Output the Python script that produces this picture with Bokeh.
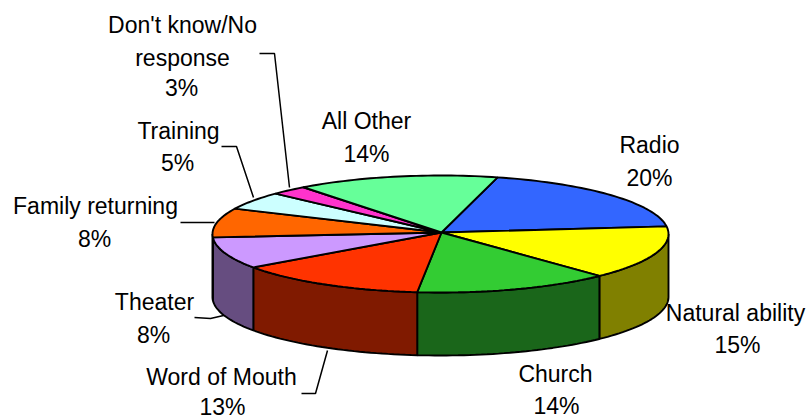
import math
from bokeh.plotting import figure
from bokeh.models import ColumnDataSource, Range1d
from bokeh.core.properties import value
from bokeh.embed import file_html
from bokeh.resources import INLINE

# Slices clockwise, beginning at the All Other / Radio boundary
categories = ["Radio", "Natural ability", "Church", "Word of Mouth", "Theater",
              "Family returning", "Training", "Don't know/No response", "All Other"]
percent_labels = [20, 15, 14, 13, 8, 8, 5, 3, 14]
# Share of the ellipse sweep as it appears on the tilted disc
visible_share = [18.9, 14.8, 13.9, 13.7, 8.75, 8.05, 5.0, 2.6, 14.3]
top_colors = ["#3366FF", "#FFFF00", "#33CC33", "#FF3300", "#CC99FF",
              "#FF6600", "#CCFFFF", "#FF33CC", "#66FF99"]
side_colors = ["#1A3380", "#808000", "#1A661A", "#801A00", "#664D80",
               "#803300", "#668080", "#801A66", "#338050"]

# label lines: (x, y-centre, text)
label_lines = [
    (182, 24, "Don't know/No"), (182, 57, "response"), (181, 87, "3%"),
    (178, 130, "Training"), (177, 162, "5%"),
    (366, 120, "All Other"), (366, 153, "14%"),
    (649, 144, "Radio"), (649, 177, "20%"),
    (735, 312, "Natural ability"), (737, 344, "15%"),
    (555, 373, "Church"), (556, 405, "14%"),
    (221, 376, "Word of Mouth"), (222, 406, "13%"),
    (154, 301, "Theater"), (153, 334, "8%"),
    (95, 205, "Family returning"), (94, 238, "8%"),
]
leaders_x = [[259, 274, 289], [221, 236, 253], [180, 214], [194, 210, 223], [301, 315, 327]]
leaders_y = [[53, 53, 187], [146, 146, 197], [222, 222], [317, 318, 315], [393, 393, 350]]

CX, CY, RX, RY, DEPTH, START = 440, 233.5, 228, 58.5, 63, 14.5
APEX = (441, 232)


def pt(t, dy=0):
    r = math.radians(t)
    return CX + RX * math.sin(r), CY - RY * math.cos(r) + dy


def sweep(a, b, dy=0):
    n = max(2, int((b - a) / 1.5) + 2)
    return [pt(a + (b - a) * i / (n - 1), dy) for i in range(n)]


p = figure(width=807, height=419, x_range=Range1d(0, 807), y_range=Range1d(419, 0),
           output_backend="svg", toolbar_location=None, min_border=0,
           outline_line_color=None, background_fill_color="white")
p.axis.visible = False
p.grid.visible = False

total = sum(visible_share)
edges = [START]
for s in visible_share:
    edges.append(edges[-1] + 360 * s / total)

top_xs, top_ys, side_xs, side_ys, side_c = [], [], [], [], []
for i in range(len(categories)):
    a, b = edges[i], edges[i + 1]
    arc = sweep(a, b)
    top_xs.append([APEX[0]] + [q[0] for q in arc])
    top_ys.append([APEX[1]] + [q[1] for q in arc])
    lo, hi = max(a, 90), min(b, 270)
    if hi > lo:
        upper = sweep(lo, hi)
        lower = sweep(lo, hi, DEPTH)[::-1]
        side_xs.append([q[0] for q in upper + lower])
        side_ys.append([q[1] for q in upper + lower])
        side_c.append(side_colors[i])

p.patches("xs", "ys", source=ColumnDataSource(dict(xs=side_xs, ys=side_ys, c=side_c)),
          fill_color="c", line_color="black", line_width=1.9)
p.patches("xs", "ys", source=ColumnDataSource(dict(xs=top_xs, ys=top_ys, c=top_colors)),
          fill_color="c", line_color="black", line_width=1.9)
p.multi_line(leaders_x, leaders_y, line_color="black", line_width=1.5)

p.text([q[0] for q in label_lines], [q[1] for q in label_lines], text=[q[2] for q in label_lines],
       text_font=value("Liberation Sans"), text_font_size="23px", text_color="black",
       text_align="center", text_baseline="middle")

open("out.html", "w").write(file_html(p, INLINE))
